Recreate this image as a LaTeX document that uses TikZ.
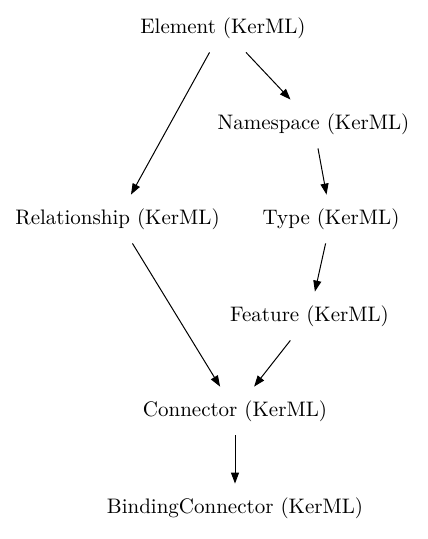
\documentclass[tikz,border=0pt]{standalone}
\usepackage{tikz}
\usetikzlibrary{arrows.meta}

\begin{document}
\begin{tikzpicture} [x = 0.5pt, y = -0.5pt, 
  cls/.style = {rectangle, minimum height = 24pt, inner xsep = 2pt, font = \fontsize{10.5}{12}\selectfont},
  gen/.style = {-{Triangle[length = 5.5pt, width = 4pt]}, line width = 0.5pt}]
\useasboundingbox (0, 0) rectangle (427, 539);
\node[cls] (element) at (223.0, 28.0){Element (KerML)};
\node[cls] (namespace) at (313.5, 124.0){Namespace (KerML)};
\node[cls] (relationship) at (117.5, 219.0){Relationship (KerML)};
\node[cls] (type) at (331.0, 219.0){Type (KerML)};
\node[cls] (feature) at (309.5, 316.0){Feature (KerML)};
\node[cls] (connector) at (235.0, 411.0){Connector (KerML)};
\node[cls] (binding) at (235.0, 508.0){BindingConnector (KerML)};
\draw[gen] (element) -- (namespace);
\draw[gen] (element) -- (relationship);
\draw[gen] (namespace) -- (type);
\draw[gen] (relationship) -- (connector);
\draw[gen] (type) -- (feature);
\draw[gen] (feature) -- (connector);
\draw[gen] (connector) -- (binding);
\end{tikzpicture}
\end{document}
